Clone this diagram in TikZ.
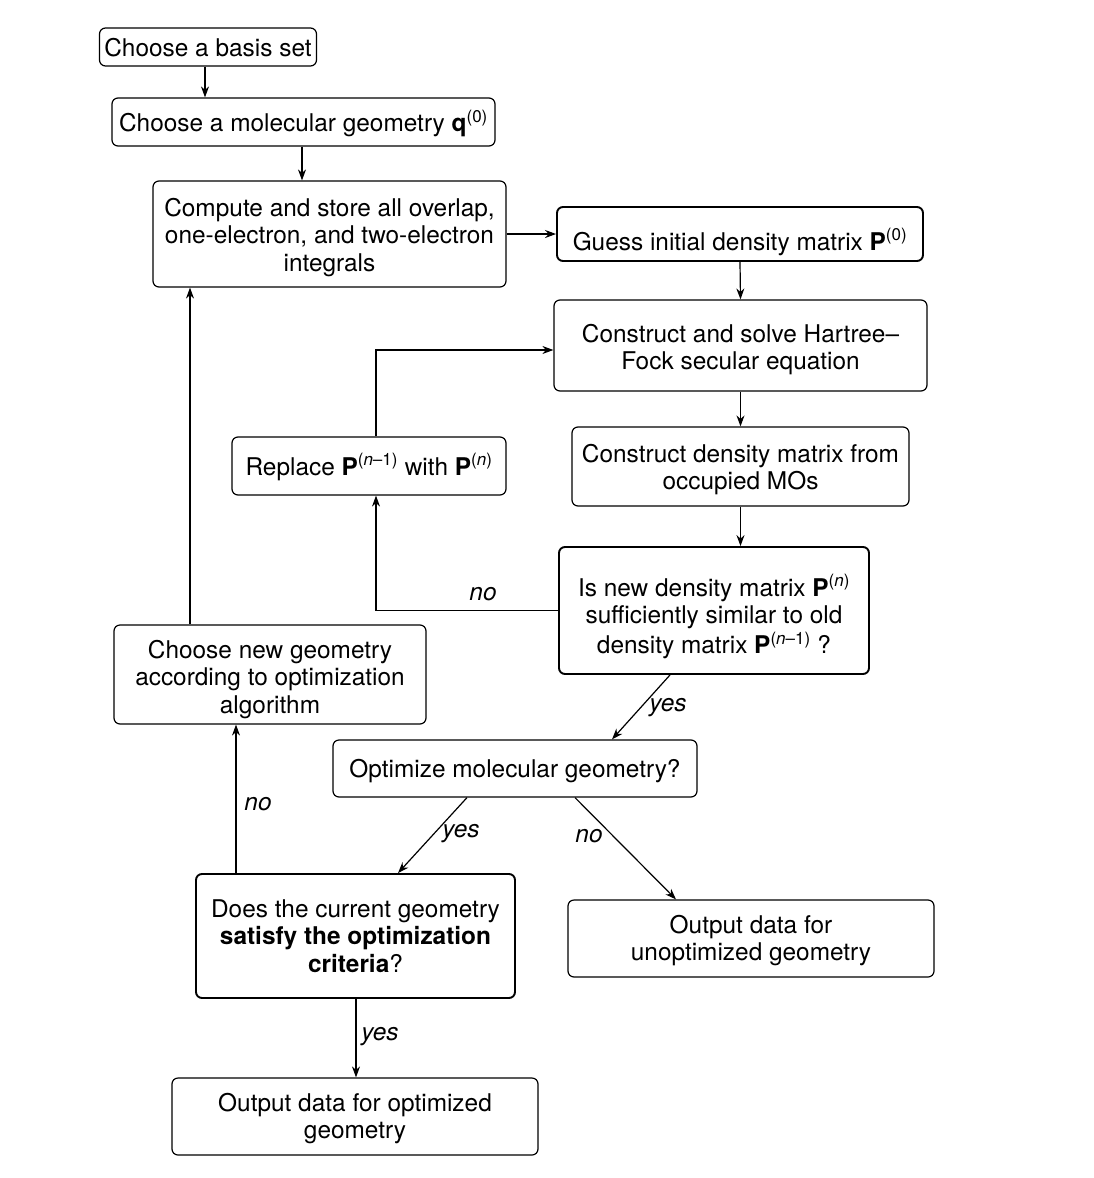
\documentclass[tikz,border=0pt]{standalone}
\usepackage{fontspec}
\setmainfont{TeX Gyre Heros}
\usetikzlibrary{arrows.meta}
\newcommand{\supr}[1]{\textsuperscript{\fontsize{17}{17}\selectfont #1}}
\newcommand{\tabl}[1]{\begin{tabular}[t]{@{}c@{}}#1\end{tabular}}
\begin{document}
\begin{tikzpicture}[x=1pt,y=-1pt,
  box/.style={draw, rounded corners=6pt, line width=1.2pt, inner sep=0pt,
    font=\fontsize{24.4}{27.5}\selectfont},
  thick box/.style={box, line width=1.9pt},
  up/.style={text height=#1, text depth=0pt},
  dn/.style={text height=0pt, text depth=#1},
  arr/.style={line width=1.2pt, -{Stealth[length=11pt,width=8pt]}},
  lab/.style={font=\fontsize{24.4}{27.5}\selectfont\itshape, inner sep=0pt}]
\useasboundingbox (0,0) rectangle (1094,1178);
\node[box, up=18pt, minimum width=217pt, minimum height=38pt] (b1) at (208,47) {\tabl{Choose a basis set}};
\node[box, up=19pt, minimum width=383pt, minimum height=48pt] (b2) at (303.5,122) {\tabl{Choose a molecular geometry \textbf{q}\supr{(0)}}};
\node[box, dn=36pt, minimum width=353pt, minimum height=106pt] (b3) at (329.5,234) {\tabl{Compute and store all overlap,\\one-electron, and two-electron\\integrals}};
\node[thick box, up=32pt, minimum width=366pt, minimum height=54pt] (b4) at (740,234) {\tabl{Guess initial density matrix \textbf{P}\supr{(0)}}};
\node[box, dn=7pt, minimum width=373pt, minimum height=91pt] (b5) at (740.5,345.5) {\tabl{Construct and solve Hartree–\\Fock secular equation}};
\node[box, dn=9pt, minimum width=337pt, minimum height=79pt] (b6) at (740.5,466.5) {\tabl{Construct density matrix from\\occupied MOs}};
\node[box, up=18pt, minimum width=274pt, minimum height=58pt] (b7) at (369,466) {\tabl{Replace \textbf{P}\supr{(\textit{n}–1)} with \textbf{P}\supr{(\textit{n})}}};
\node[thick box, dn=29pt, minimum width=310pt, minimum height=127pt] (b8) at (714,610.5) {\tabl{Is new density matrix \textbf{P}\supr{(\textit{n})}\\sufficiently similar to old\\density matrix \textbf{P}\supr{(\textit{n}–1)} ?}};
\node[box, dn=33pt, minimum width=312pt, minimum height=99pt] (b9) at (270,674.5) {\tabl{Choose new geometry\\according to optimization\\algorithm}};
\node[box, up=17pt, minimum width=364pt, minimum height=57pt] (b10) at (515,768.5) {\tabl{Optimize molecular geometry?}};
\node[thick box, dn=38pt, minimum width=319pt, minimum height=124pt] (b11) at (355.5,936) {\tabl{Does the current geometry\\\textbf{satisfy the optimization}\\\textbf{criteria}?}};
\node[box, dn=11pt, minimum width=366pt, minimum height=77pt] (b12) at (751,938.5) {\tabl{Output data for\\unoptimized geometry}};
\node[box, dn=11pt, minimum width=366pt, minimum height=77pt] (b13) at (355,1116.5) {\tabl{Output data for optimized\\geometry}};
\coordinate (c205) at (205,0);
\coordinate (c302) at (302,0);
\coordinate (c376) at (376,0);
\coordinate (j1) at (376,350);
\coordinate (c670) at (670,0);
\coordinate (c612) at (612,0);
\coordinate (c467) at (467,0);
\coordinate (c398) at (398,0);
\coordinate (c575) at (575,0);
\coordinate (c676) at (676,0);
\coordinate (c236) at (236,0);
\coordinate (c190) at (190,0);
\coordinate (c356) at (356,0);
\draw[arr] (b1.south -| c205) -- (b2.north -| c205);
\draw[arr] (b2.south -| c302) -- (b3.north -| c302);
\draw[arr] (b3.east) -- (b4.west);
\draw[arr] (b4.south) -- (b5.north);
\draw[arr] (b5.south) -- (b6.north);
\draw[arr] (b6.south) -- (b8.north -| b6.south);
\draw[arr] (b8.west) -- (b8.west -| c376) -- (b7.south -| c376);
\draw[arr] (b7.north -| c376) -- (j1) -- (b5.west |- j1);
\draw[arr] (b8.south -| c670) -- (b10.north -| c612);
\draw[arr] (b10.south -| c467) -- (b11.north -| c398);
\draw[arr] (b10.south -| c575) -- (b12.north -| c676);
\draw[arr] (b11.north -| c236) -- (b9.south -| c236);
\draw[arr] (b9.north -| c190) -- (b3.south -| c190);
\draw[arr] (b11.south -| c356) -- (b13.north -| c356);
\node[lab] (l1) at (483,594) {no};
\node[lab] (l2) at (668,708) {yes};
\node[lab] (l3) at (461,834) {yes};
\node[lab] (l4) at (589,836) {no};
\node[lab] (l5) at (258,804) {no};
\node[lab] (l6) at (380,1037) {yes};
\end{tikzpicture}
\end{document}
